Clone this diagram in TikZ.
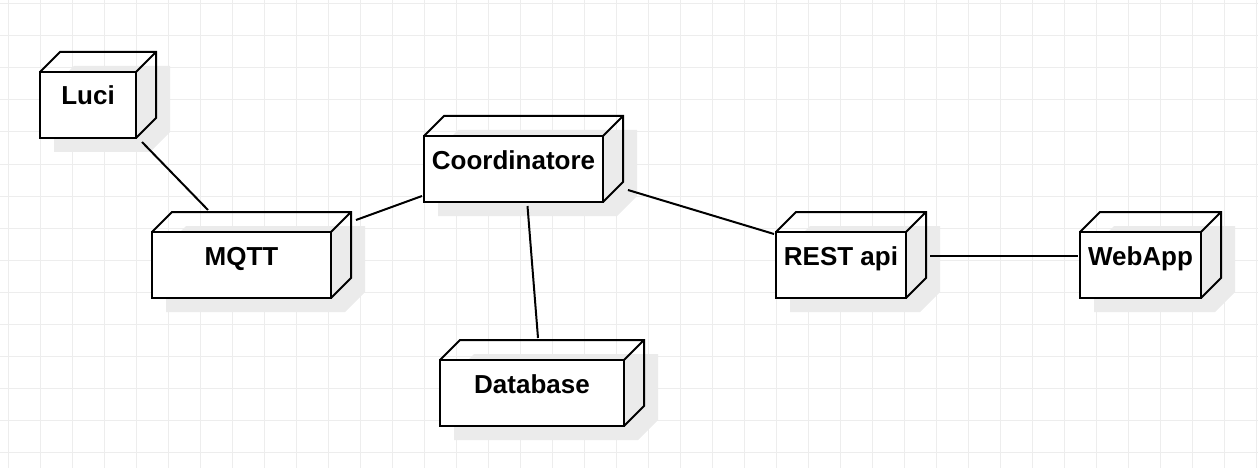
\documentclass[tikz,border=0pt]{standalone}
\usepackage{fontspec}
\setmainfont{Liberation Sans}

\definecolor{shadowgray}{HTML}{EBEBEB}
\definecolor{gridgray}{HTML}{EDEDED}

\tikzset{
  devnode/.style={draw, line width=2pt, fill=white, anchor=north west, outer sep=0pt,
    minimum height=66pt, inner sep=0pt, text height=20pt, text depth=20pt,
    font=\fontsize{26}{30}\selectfont\bfseries},
  link/.style={line width=2pt},
  gridline/.style={gridgray, line width=1pt},
}

% name, x, y (front top left), width, text
\newcommand{\devbox}[5]{%
  \fill[shadowgray] (#2+14,#3+14) -- (#2+34,#3-6) -- (#2+#4+34,#3-6) -- (#2+#4+34,#3+60)
    -- (#2+#4+14,#3+80) -- (#2+14,#3+80) -- cycle;
  \node[devnode, minimum width=#4pt] (#1) at (#2,#3) {#5};
  \draw[line width=2pt] (#1.north west) -- ++(20,-20) -- ++(#4,0) -- ++(0,66) -- (#1.south east)
    (#1.north east) -- ++(20,-20);
}

\begin{document}
\begin{tikzpicture}[x=1pt,y=-1pt]
    \useasboundingbox (0,0) rectangle (1258,468);
    \foreach \gx in {8,40,...,1256} \draw[gridline] (\gx,0) -- (\gx,468);
    \foreach \gy in {4,36,...,466} \draw[gridline] (0,\gy) -- (1258,\gy);

    \devbox{luci}{40}{72}{96}{Luci}
    \devbox{coord}{424}{136}{179}{Coordinatore}
    \devbox{mqtt}{152}{232}{179}{MQTT}
    \devbox{rest}{776}{232}{130}{REST api}
    \devbox{webapp}{1080}{232}{121}{WebApp}
    \devbox{db}{440}{360}{184}{Database}

    \draw[link] ([shift={(6,4)}]luci.south east) -- ([shift={(56,-22)}]mqtt.north west);
    \draw[link] ([shift={(25,-12)}]mqtt.north east) -- ([shift={(-2,-6)}]coord.south west);
    \draw[link] ([shift={(14,4)}]coord.south) -- ([shift={(6,-22)}]db.north);
    \draw[link] ([shift={(25,-12)}]coord.south east) -- ([shift={(-2,2)}]rest.north west);
    \draw[link] ([shift={(24,-9)}]rest.east) -- ([shift={(-2,-9)}]webapp.west);
\end{tikzpicture}
\end{document}
